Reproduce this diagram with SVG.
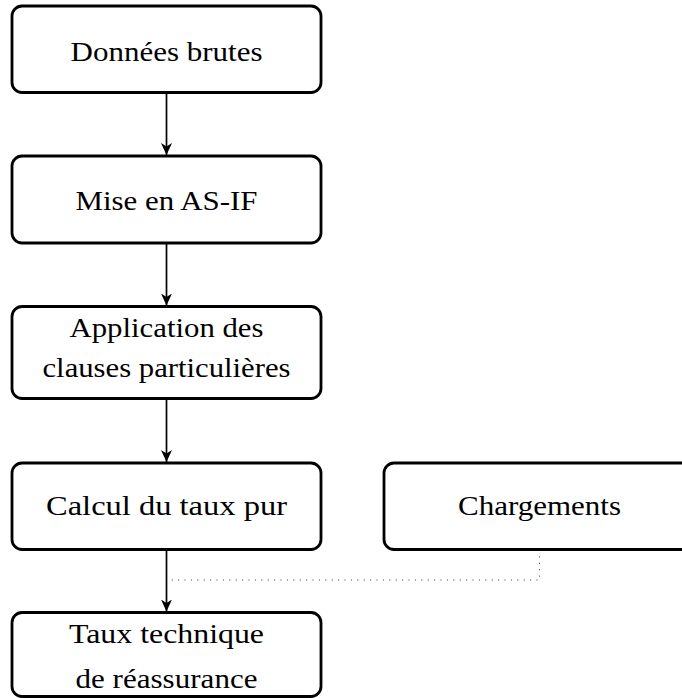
<svg xmlns="http://www.w3.org/2000/svg" width="682" height="698" viewBox="0 0 682 698">
  <style>
    .box { fill: #ffffff; stroke: #000000; stroke-width: 2.8; }
    .lbl { font-family: "Liberation Serif", "Times New Roman", serif; font-size: 28px; fill: #000000; text-anchor: middle; }
    .flow { stroke: #000000; stroke-width: 1.7; fill: none; }
    .dots { stroke: #333333; stroke-width: 1; fill: none; stroke-dasharray: 1 5.4; }
  </style>
  <defs>
    <marker id="head" markerUnits="userSpaceOnUse" viewBox="-12 -7 14 14" refX="0" refY="0" markerWidth="14" markerHeight="14" orient="auto">
      <path d="M0,0 L-12,-5.5 L-8.5,0 L-12,5.5 Z" fill="#000000"/>
    </marker>
  </defs>

  <rect width="682" height="698" fill="#ffffff"/>

  <g id="connectors">
    <line class="flow" x1="166.5" y1="93" x2="166.5" y2="155" marker-end="url(#head)"/>
    <line class="flow" x1="166.5" y1="243" x2="166.5" y2="305.5" marker-end="url(#head)"/>
    <line class="flow" x1="166.5" y1="398.5" x2="166.5" y2="462" marker-end="url(#head)"/>
    <line class="flow" x1="166.5" y1="549.5" x2="166.5" y2="611.5" marker-end="url(#head)"/>
    <polyline class="dots" points="539.5,550 539.5,580 170,580"/>
  </g>

  <g id="donnees-brutes">
    <rect class="box" x="12" y="6" width="309" height="86.5" rx="10"/>
    <text class="lbl" x="166.5" y="61" textLength="192" lengthAdjust="spacingAndGlyphs">Données brutes</text>
  </g>

  <g id="mise-en-as-if">
    <rect class="box" x="12" y="156" width="309" height="87" rx="10"/>
    <text class="lbl" x="166.5" y="210" textLength="182" lengthAdjust="spacingAndGlyphs">Mise en AS-IF</text>
  </g>

  <g id="clauses-particulieres">
    <rect class="box" x="12" y="306.5" width="309" height="92" rx="10"/>
    <text class="lbl" x="166.5" y="336.5" textLength="194" lengthAdjust="spacingAndGlyphs">Application des</text>
    <text class="lbl" x="166.5" y="377" textLength="248" lengthAdjust="spacingAndGlyphs">clauses particulières</text>
  </g>

  <g id="taux-pur">
    <rect class="box" x="12" y="463" width="309" height="86.5" rx="10"/>
    <text class="lbl" x="166.5" y="514.5" textLength="241" lengthAdjust="spacingAndGlyphs">Calcul du taux pur</text>
  </g>

  <g id="chargements">
    <rect class="box" x="384" y="463" width="311" height="86.5" rx="10"/>
    <text class="lbl" x="539.5" y="514.5" textLength="163" lengthAdjust="spacingAndGlyphs">Chargements</text>
  </g>

  <g id="taux-technique">
    <rect class="box" x="12" y="612.5" width="309" height="84" rx="10"/>
    <text class="lbl" x="166.5" y="643" textLength="195" lengthAdjust="spacingAndGlyphs">Taux technique</text>
    <text class="lbl" x="166.5" y="687.5" textLength="182" lengthAdjust="spacingAndGlyphs">de réassurance</text>
  </g>
</svg>
